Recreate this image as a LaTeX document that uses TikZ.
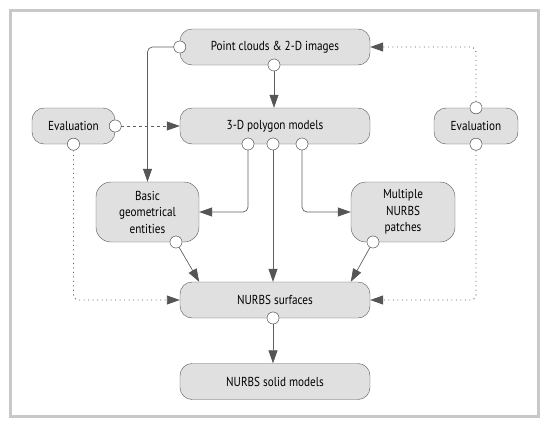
\documentclass[tikz,border=0pt]{standalone}
\usepackage{fontspec}
\setmainfont{PT Sans}[FakeStretch=0.86]
\usetikzlibrary{arrows.meta}

\definecolor{boxfill}{HTML}{E0E0E0}
\definecolor{boxline}{HTML}{555555}
\definecolor{linkline}{HTML}{5F5F5F}
\definecolor{framegray}{HTML}{C8C8C8}

\begin{document}
\begin{tikzpicture}[x=1pt,y=-1pt,
  stage/.style={draw=boxline,fill=boxfill,rounded corners=12pt,minimum height=36pt,
    inner sep=2pt,align=center,font=\fontsize{13}{16.5}\selectfont},
  bigstage/.style={stage,rounded corners=15pt,minimum height=60pt},
  port/.style={circle,draw=boxline,fill=white,inner sep=0pt,minimum size=12pt},
  link/.style={draw=linkline,line width=0.7pt,-{Triangle[length=13pt,width=9pt,fill=boxline,color=boxline]}},
  evallink/.style={link,dash pattern=on 3pt off 3pt},
  feedback/.style={link,line width=0.9pt,dash pattern=on 1pt off 3.5pt}]
\useasboundingbox (0,0) rectangle (550,426);
\draw[framegray,line width=3pt] (10,10) rectangle (538,416);

\node(points)[stage,minimum width=190pt] at (275,47){Point clouds \& 2-D images};
\node(polygon)[stage,minimum width=190pt] at (275,126){3-D polygon models};
\node(evalleft)[stage,minimum width=83pt] at (73.5,126){Evaluation};
\node(evalright)[stage,minimum width=84pt] at (476,126){Evaluation};
\node(basic)[bigstage,minimum width=103pt] at (147.5,212){Basic\\geometrical\\entities};
\node(multi)[bigstage,minimum width=104pt] at (403,212){Multiple\\NURBS\\patches};
\node(surfaces)[stage,minimum width=190pt] at (275,300){NURBS surfaces};
\node(solid)[stage,minimum width=190pt] at (275,381.5){NURBS solid models};

% ports
\node(pointsW)[port] at (points.west){};
\node(pointsS)[port] at (274,65){};
\node(polyA)[port] at (248,144){};
\node(polyB)[port] at (273,144){};
\node(polyC)[port] at (302,144){};
\node(evalleftE)[port] at (evalleft.east){};
\node(evalleftS)[port] at (evalleft.south){};
\node(evalrightN)[port] at (evalright.north){};
\node(evalrightS)[port] at (evalright.south){};
\node(basicS)[port] at (176,242){};
\node(multiS)[port] at (373,242){};
\node(surfacesS)[port] at (273,318){};

% flow
\path[link,rounded corners=5pt] (pointsW) -| (basic.north);
\path[link] (pointsS) -- (pointsS |- polygon.north);
\path[link,rounded corners=5pt] (polyA) |- (basic.east);
\path[link] (polyB) -- (polyB |- surfaces.north);
\path[link,rounded corners=5pt] (polyC) |- (multi.west);
\path[link] (basicS) -- (surfaces.north -| basic.east);
\path[link] (multiS) -- (surfaces.north -| multi.west);
\path[link] (surfacesS) -- (surfacesS |- solid.north);

% evaluation
\path[evallink] (evalleftE) -- (polygon.west);
\path[feedback,rounded corners=5pt] (evalleftS) |- (surfaces.west);
\path[feedback,rounded corners=5pt] (evalrightN) |- (points.east);
\path[feedback,rounded corners=5pt] (evalrightS) |- (surfaces.east);

% ports again on top
\foreach \p in {pointsW,pointsS,polyA,polyB,polyC,evalleftE,evalleftS,evalrightN,evalrightS,basicS,multiS,surfacesS}
  \draw[boxline,fill=white] (\p) circle (6pt);
\end{tikzpicture}
\end{document}
